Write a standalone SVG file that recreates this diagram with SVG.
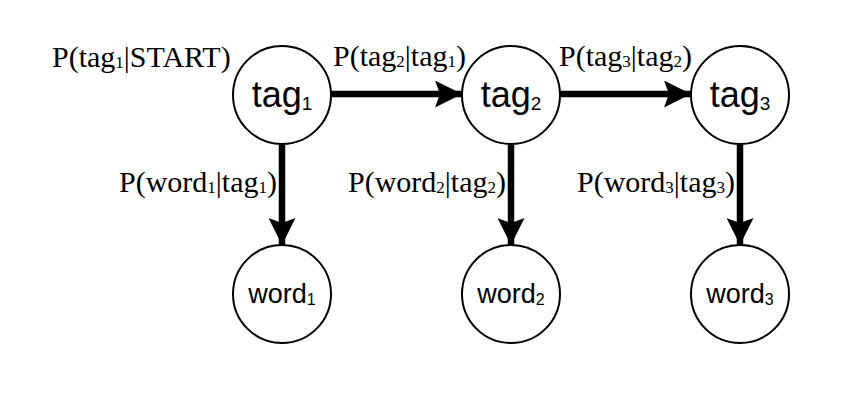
<svg xmlns="http://www.w3.org/2000/svg" width="863" height="408" viewBox="0 0 863 408">
<style>
.node{fill:#fff;stroke:#000;stroke-width:2}
.nt{font-family:"Liberation Sans",Arial,sans-serif;fill:#000;text-anchor:middle}
.tag{font-size:36px}
.word{font-size:27px}
.lbl{font-family:"Liberation Serif","Times New Roman",serif;font-size:30px;fill:#000}
.s{font-size:17px}
.ts{font-size:19px}
.ws{font-size:16px}
.edge{stroke:#000;stroke-width:6.5;fill:none}
</style>
<defs>
<marker id="ah" viewBox="0 0 27 27" refX="27" refY="13.5" markerWidth="27" markerHeight="27" markerUnits="userSpaceOnUse" orient="auto">
<path d="M0,0 L27,13.5 L0,27 L5,13.5 z" fill="#000"/>
</marker>
</defs>
<rect width="863" height="408" fill="#fff"/>
<g id="connectors">
<path class="edge" d="M331,94 L462,94" marker-end="url(#ah)"/>
<path class="edge" d="M560,94 L691,94" marker-end="url(#ah)"/>
<path class="edge" d="M282,144 L282,245" marker-end="url(#ah)"/>
<path class="edge" d="M511,144 L511,245" marker-end="url(#ah)"/>
<path class="edge" d="M740,144 L740,245" marker-end="url(#ah)"/>
</g>
<g id="tag1"><circle class="node" cx="282" cy="95" r="49"/><text class="nt tag" x="282" y="107">tag<tspan class="ts" dy="3">1</tspan></text></g>
<g id="tag2"><circle class="node" cx="511" cy="95" r="49"/><text class="nt tag" x="511" y="107">tag<tspan class="ts" dy="3">2</tspan></text></g>
<g id="tag3"><circle class="node" cx="740" cy="95" r="49"/><text class="nt tag" x="740" y="107">tag<tspan class="ts" dy="3">3</tspan></text></g>
<g id="word1"><circle class="node" cx="282" cy="294" r="49"/><text class="nt word" x="282" y="303">word<tspan class="ws" dy="2">1</tspan></text></g>
<g id="word2"><circle class="node" cx="511" cy="294" r="49"/><text class="nt word" x="511" y="303">word<tspan class="ws" dy="2">2</tspan></text></g>
<g id="word3"><circle class="node" cx="740" cy="294" r="49"/><text class="nt word" x="740" y="303">word<tspan class="ws" dy="2">3</tspan></text></g>
<g id="labels">
<text class="lbl" x="52" y="67">P(tag<tspan class="s" dy="1">1</tspan><tspan dy="-1">|START)</tspan></text>
<text class="lbl" x="333" y="66">P(tag<tspan class="s" dy="1">2</tspan><tspan dy="-1">|tag</tspan><tspan class="s" dy="1">1</tspan><tspan dy="-1">)</tspan></text>
<text class="lbl" x="559" y="66">P(tag<tspan class="s" dy="1">3</tspan><tspan dy="-1">|tag</tspan><tspan class="s" dy="1">2</tspan><tspan dy="-1">)</tspan></text>
<text class="lbl" x="277" y="192" text-anchor="end">P(word<tspan class="s" dy="1">1</tspan><tspan dy="-1">|tag</tspan><tspan class="s" dy="1">1</tspan><tspan dy="-1">)</tspan></text>
<text class="lbl" x="506" y="192" text-anchor="end">P(word<tspan class="s" dy="1">2</tspan><tspan dy="-1">|tag</tspan><tspan class="s" dy="1">2</tspan><tspan dy="-1">)</tspan></text>
<text class="lbl" x="735" y="192" text-anchor="end">P(word<tspan class="s" dy="1">3</tspan><tspan dy="-1">|tag</tspan><tspan class="s" dy="1">3</tspan><tspan dy="-1">)</tspan></text>
</g>
</svg>
